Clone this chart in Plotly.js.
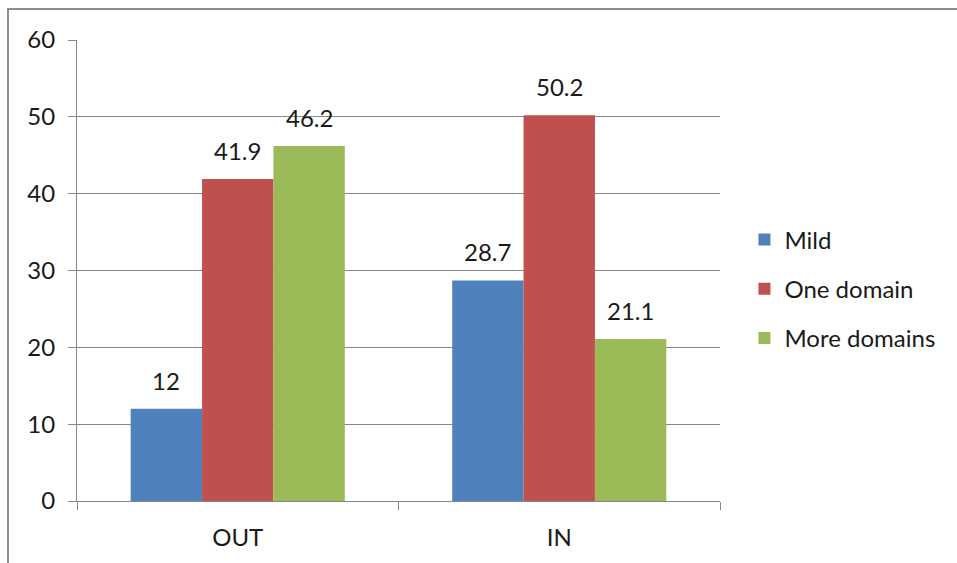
<!DOCTYPE html>
<html>
<head>
<meta charset="utf-8">
<script src="https://cdn.plot.ly/plotly-3.0.1.min.js"></script>
<style>
html,body{margin:0;padding:0;background:#fff;}
#chart{width:957px;height:563px;}
</style>
</head>
<body>
<div id="chart"></div>
<script>
var categories = ["OUT", "IN"];
var seriesNames = ["Mild", "One domain", "More domains"];
var mild = [12, 28.7];
var oneDomain = [41.9, 50.2];
var moreDomains = [46.2, 21.1];
var yTicks = [0, 10, 20, 30, 40, 50, 60];

var colors = ["#4F81BD", "#C0504D", "#9BBB59"];
var seriesValues = [mild, oneDomain, moreDomains];
var FONT = "Lato, 'Open Sans', sans-serif";
var FS = 24;

var traces = seriesValues.map(function (vals, i) {
  return {
    type: "bar",
    name: seriesNames[i],
    x: categories,
    y: vals,
    marker: {color: colors[i], line: {width: 0}},
    legendgroup: "g" + i,
    hoverinfo: "x+y+name"
  };
});

var annotations = [];
seriesValues.forEach(function (vals, i) {
  vals.forEach(function (v, j) {
    annotations.push({
      x: categories[j], y: v, xref: "x", yref: "y",
      text: String(v), showarrow: false,
      xanchor: "center", yanchor: "bottom",
      xshift: (i - 1) * 71.4, yshift: 12,
      font: {family: FONT, size: FS, color: "#1a1a1a"}
    });
  });
});

var layout = {
  width: 957, height: 563,
  margin: {l: 77, r: 237, t: 40, b: 62},
  paper_bgcolor: "#fff", plot_bgcolor: "#fff",
  barmode: "group", bargap: 0.334, bargroupgap: 0,
  showlegend: true,
  legend: {
    x: 1.038, xanchor: "left", y: 0.46, yanchor: "middle",
    font: {family: FONT, size: FS, color: "#1a1a1a"},
    traceorder: "grouped", tracegroupgap: 15,
    itemwidth: 30
  },
  xaxis: {
    type: "category", range: [-0.5, 1.5],
    tickson: "boundaries", ticks: "outside", ticklen: 8, tickcolor: "#878787",
    showline: true, linecolor: "#878787", linewidth: 1,
    showgrid: false, zeroline: false,
    tickfont: {family: FONT, size: FS, color: "#1a1a1a"},
    ticklabelstandoff: 15
  },
  yaxis: {
    range: [0, 60], tickvals: yTicks, ticktext: yTicks.map(String),
    ticks: "outside", ticklen: 8, tickcolor: "#878787",
    showline: true, linecolor: "#878787", linewidth: 1,
    showgrid: true, gridcolor: "#878787", gridwidth: 1,
    zeroline: false,
    tickfont: {family: FONT, size: FS, color: "#1a1a1a"},
    ticklabelstandoff: 8
  },
  annotations: annotations,
  shapes: [{
    type: "rect", xref: "paper", yref: "paper", layer: "below",
    x0: (8 - 77) / 643, x1: (1000 - 77) / 643,
    y0: -0.2, y1: (501 - 9) / 461,
    line: {color: "#8c8c8c", width: 2}, fillcolor: "rgba(0,0,0,0)"
  }]
};

Plotly.newPlot("chart", traces, layout, {displayModeBar: false, staticPlot: true});
</script>
</body>
</html>
